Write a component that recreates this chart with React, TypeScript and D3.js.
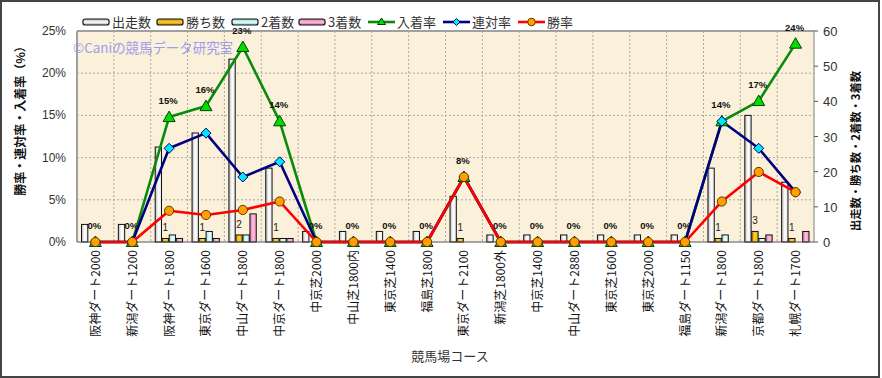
import React from "react";
import * as d3 from "d3";

const categories = [
  "阪神ダート2000", "新潟ダート1200", "阪神ダート1800", "東京ダート1600", "中山ダート1800",
  "中京ダート1800", "中京芝2000", "中山芝1800内", "東京芝1400", "福島芝1800",
  "東京ダート2100", "新潟芝1800外", "中京芝1400", "中山ダート2880", "東京芝1600",
  "東京芝2000", "福島ダート1150", "新潟ダート1800", "京都ダート1800", "札幌ダート1700",
];
const starts = [5, 5, 27, 31, 52, 21, 3, 3, 3, 3, 13, 2, 2, 2, 2, 2, 2, 21, 36, 17];
const wins = [0, 0, 1, 1, 2, 1, 0, 0, 0, 0, 1, 0, 0, 0, 0, 0, 0, 1, 3, 1];
const seconds = [0, 0, 2, 3, 2, 1, 0, 0, 0, 0, 0, 0, 0, 0, 0, 0, 0, 2, 1, 0];
const thirds = [0, 0, 1, 1, 8, 1, 0, 0, 0, 0, 0, 0, 0, 0, 0, 0, 0, 0, 2, 3];
const showRate = [0, 0, 14.8, 16.1, 23.1, 14.3, 0, 0, 0, 0, 7.7, 0, 0, 0, 0, 0, 0, 14.3, 16.7, 23.5];
const quinellaRate = [0, 0, 11.1, 12.9, 7.7, 9.5, 0, 0, 0, 0, 7.7, 0, 0, 0, 0, 0, 0, 14.3, 11.1, 5.9];
const winRate = [0, 0, 3.7, 3.2, 3.8, 4.8, 0, 0, 0, 0, 7.7, 0, 0, 0, 0, 0, 0, 4.8, 8.3, 5.9];
const leftTicks = [0, 5, 10, 15, 20, 25];
const rightTicks = [0, 10, 20, 30, 40, 50, 60];
const barSeries = ["出走数", "勝ち数", "2着数", "3着数"];
const lineSeries = ["入着率", "連対率", "勝率"];

const JP = "'Noto Sans CJK JP', sans-serif";
const NUM = "'Liberation Sans', Arial, sans-serif";

const W = 882, H = 378;
const L = 77, R = 814, T = 31, B = 242;

export default function App() {
  const x = d3.scaleBand<string>().domain(categories).range([L, R]);
  const bw = x.bandwidth();
  const inner = d3.scaleBand<string>().domain(barSeries).range([4.5, bw - 5]).paddingInner(0.1);
  const yL = d3.scaleLinear().domain([0, 25]).range([B, T]);
  const yR = d3.scaleLinear().domain([0, 60]).range([B, T]);
  const cx = (i: number) => (x(categories[i]) as number) + bw / 2;

  const barData = [starts, wins, seconds, thirds];
  const barFill = ["url(#gStart)", "url(#gWin)", "url(#gSec)", "url(#gThird)"];

  const lineGen = d3.line<number>().x((_, i) => cx(i)).y((v) => yL(v));
  const lines = [
    { data: showRate, color: "#0a8a0a", marker: "tri" },
    { data: quinellaRate, color: "#000080", marker: "dia" },
    { data: winRate, color: "#ff0000", marker: "circ" },
  ];

  const marker = (type: string, px: number, py: number, key: string) => {
    if (type === "tri") {
      const s = 6;
      return <path key={key} d={`M${px},${py - s}L${px + s},${py + s * 0.75}L${px - s},${py + s * 0.75}Z`} fill="#00dd00" stroke="#004400" strokeWidth={1} />;
    }
    if (type === "dia") {
      const s = 5;
      return <path key={key} d={`M${px},${py - s}L${px + s},${py}L${px},${py + s}L${px - s},${py}Z`} fill="#00e8ff" stroke="#000060" strokeWidth={1} />;
    }
    return <circle key={key} cx={px} cy={py} r={4.6} fill="#ffa000" stroke="#663300" strokeWidth={1} />;
  };

  const legendBars = [
    { label: barSeries[0], fill: "url(#gStartL)", x: 83 },
    { label: barSeries[1], fill: "url(#gWinL)", x: 157 },
    { label: barSeries[2], fill: "url(#gSecL)", x: 232 },
    { label: barSeries[3], fill: "url(#gThirdL)", x: 299 },
  ];
  const legendLines = [
    { label: lineSeries[0], color: "#0a8a0a", marker: "tri", x: 368 },
    { label: lineSeries[1], color: "#000080", marker: "dia", x: 443 },
    { label: lineSeries[2], color: "#ff0000", marker: "circ", x: 518 },
  ];

  const grad = (id: string, c1: string, c2: string, c3: string, vertical = false) => (
    <linearGradient id={id} x1="0" y1="0" x2={vertical ? "0" : "1"} y2={vertical ? "1" : "0"}>
      <stop offset="0" stopColor={c1} />
      <stop offset="0.5" stopColor={c2} />
      <stop offset="1" stopColor={c3} />
    </linearGradient>
  );

  return (
    <div style={{ position: "fixed", left: 0, top: 0 }}>
      <svg width={W} height={H} style={{ display: "block", background: "#fff" }}>
        <defs>
          {grad("gStart", "#b8b8b8", "#ffffff", "#e4e4e4")}
          {grad("gWin", "#d89c00", "#ffd030", "#e8b000")}
          {grad("gSec", "#9fdede", "#e8ffff", "#c0eeee")}
          {grad("gThird", "#e07cb0", "#ffc0dc", "#f098c4")}
          {grad("gStartL", "#aaaaaa", "#ffffff", "#aaaaaa", true)}
          {grad("gWinL", "#c08a00", "#ffd030", "#c08a00", true)}
          {grad("gSecL", "#80c8c8", "#e8ffff", "#80c8c8", true)}
          {grad("gThirdL", "#d070a0", "#ffc0dc", "#d070a0", true)}
        </defs>
        <rect x={1} y={1} width={878} height={376} fill="#fff" stroke="#444" strokeWidth={2} />

        {/* plot background */}
        <rect x={L} y={T} width={R - L} height={B - T} fill="#fbf0da" />
        {/* grid */}
        {leftTicks.slice(1).map((t) => (
          <line key={"h" + t} x1={L} x2={R} y1={yL(t)} y2={yL(t)} stroke="#a8a8a8" strokeDasharray="2,2" strokeWidth={1} />
        ))}
        {categories.slice(1).map((c) => (
          <line key={"v" + c} x1={x(c)} x2={x(c)} y1={T} y2={B} stroke="#a8a8a8" strokeDasharray="2,2" strokeWidth={1} />
        ))}
        <line x1={L} x2={R} y1={T} y2={T} stroke="#a0a0a0" strokeWidth={2} />
        <line x1={L} x2={L} y1={T} y2={B} stroke="#a0a0a0" strokeWidth={2} />
        <line x1={R} x2={R} y1={T} y2={B} stroke="#808080" strokeWidth={1} />

        {/* watermark */}
        <text x={73} y={53} fontFamily={JP} fontSize={13.5} fill="#8e8ef0" opacity={0.85}
          textLength={160} lengthAdjust="spacingAndGlyphs">©Caniの競馬データ研究室</text>

        {/* bars */}
        {categories.map((c, i) =>
          barData.map((arr, s) => {
            const v = arr[i];
            if (v <= 0) return null;
            const bx = (x(c) as number) + (inner(barSeries[s]) as number);
            return (
              <rect key={c + s} x={bx} y={yR(v)} width={inner.bandwidth()} height={B - yR(v)}
                fill={barFill[s]} stroke="#111" strokeWidth={1} />
            );
          })
        )}
        <line x1={L} x2={R} y1={B} y2={B} stroke="#555" strokeWidth={1} />

        {/* win count labels */}
        {categories.map((c, i) =>
          wins[i] > 0 ? (
            <text key={"wl" + c} x={(x(c) as number) + (inner(barSeries[1]) as number) + inner.bandwidth() / 2}
              y={yR(wins[i]) - 7} textAnchor="middle" fontFamily={NUM} fontSize={10} fill="#222">{wins[i]}</text>
          ) : null
        )}

        {/* lines */}
        {lines.map((ln, k) => (
          <path key={"ln" + k} d={lineGen(ln.data) as string} fill="none" stroke={ln.color} strokeWidth={2.6} strokeLinejoin="round" />
        ))}
        {lines.map((ln, k) => (
          <g key={"mk" + k}>{ln.data.map((v, i) => marker(ln.marker, cx(i), yL(v), `m${k}-${i}`))}</g>
        ))}

        {/* percent labels */}
        {categories.map((c, i) => (
          <text key={"pl" + c} x={cx(i) - 1} y={yL(showRate[i]) - 13} textAnchor="middle" fontFamily={NUM}
            fontSize={9.5} fontWeight="bold" fill="#111">{Math.round(showRate[i]) + "%"}</text>
        ))}

        {/* left axis */}
        {leftTicks.map((t) => (
          <text key={"lt" + t} x={66} y={yL(t) + 4} textAnchor="end" fontFamily={NUM} fontSize={12} fill="#333">{t + "%"}</text>
        ))}
        {/* right axis */}
        {rightTicks.map((t) => (
          <g key={"rt" + t}>
            <line x1={R} x2={R + 4} y1={yR(t)} y2={yR(t)} stroke="#555" />
            <text x={823} y={yR(t) + 5} textAnchor="start" fontFamily={NUM} fontSize={13} fill="#333">{t}</text>
          </g>
        ))}

        {/* category labels */}
        {categories.map((c, i) => (
          <text key={"cl" + c} transform={`translate(${cx(i) + 4.5},250) rotate(-90)`} textAnchor="end"
            fontFamily={JP} fontSize={12} fill="#111">{c}</text>
        ))}

        {/* axis titles */}
        <text transform="translate(25,118) rotate(-90)" textAnchor="middle" fontFamily={JP} fontSize={12}
          fontWeight="bold" fill="#111">勝率・連対率・入着率（%）</text>
        <text transform="translate(860,151) rotate(-90)" textAnchor="middle" fontFamily={JP} fontSize={11.3}
          fontWeight="bold" fill="#111">出走数・勝ち数・2着数・3着数</text>
        <text x={450} y={361} textAnchor="middle" fontFamily={JP} fontSize={13} fill="#333">競馬場コース</text>

        {/* legend */}
        {legendBars.map((lb) => (
          <g key={"lb" + lb.label}>
            <rect x={lb.x} y={19} width={26} height={6} rx={2} fill={lb.fill} stroke="#111" strokeWidth={1.2} />
            <text x={lb.x + 29} y={26.5} fontFamily={JP} fontSize={13} fill="#333">{lb.label}</text>
          </g>
        ))}
        {legendLines.map((ll) => (
          <g key={"ll" + ll.label}>
            <line x1={ll.x} x2={ll.x + 27} y1={22} y2={22} stroke={ll.color} strokeWidth={2.6} />
            {ll.marker === "tri" ? (
              <path d={`M${ll.x + 13.5},18L${ll.x + 17.5},24.5L${ll.x + 9.5},24.5Z`} fill="#00dd00" stroke="#004400" strokeWidth={1} />
            ) : ll.marker === "dia" ? (
              <path d={`M${ll.x + 13.5},18.5L${ll.x + 17},22L${ll.x + 13.5},25.5L${ll.x + 10},22Z`} fill="#00e8ff" stroke="#000060" strokeWidth={1} />
            ) : (
              <circle cx={ll.x + 13.5} cy={22} r={3.8} fill="#ffa000" stroke="#663300" strokeWidth={1} />
            )}
            <text x={ll.x + 29} y={26.5} fontFamily={JP} fontSize={13} fill="#333">{ll.label}</text>
          </g>
        ))}
      </svg>
    </div>
  );
}
